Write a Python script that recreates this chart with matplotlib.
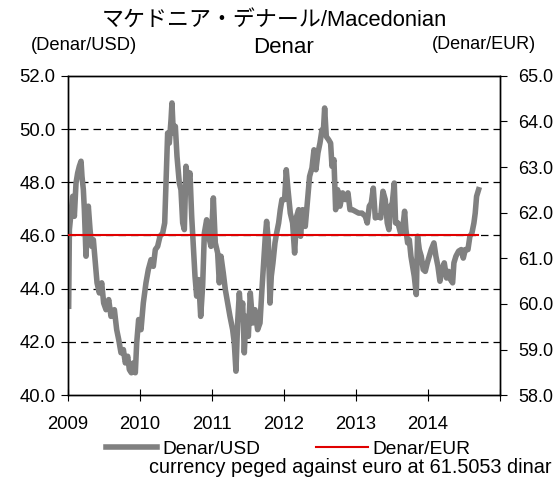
import matplotlib
matplotlib.use('Agg')
import matplotlib.pyplot as plt
from matplotlib.ticker import FormatStrFormatter, MultipleLocator

FONT = ['Liberation Sans', 'Noto Sans CJK JP', 'DejaVu Sans']
plt.rcParams['font.family'] = FONT

GRAY = '#808080'
RED = '#e00000'

# Denar/USD (decimal year, value)
usd_t = [
    2009.009, 2009.019, 2009.042, 2009.065, 2009.088, 2009.111, 2009.134, 2009.157,
    2009.181, 2009.194, 2009.213, 2009.227, 2009.250, 2009.264, 2009.282, 2009.306,
    2009.329, 2009.352, 2009.380, 2009.403, 2009.435, 2009.468, 2009.495, 2009.528,
    2009.565, 2009.597, 2009.644, 2009.676, 2009.704, 2009.736, 2009.769, 2009.796,
    2009.829, 2009.852, 2009.880, 2009.907, 2009.935, 2009.954, 2009.981, 2010.014,
    2010.046, 2010.083, 2010.116, 2010.153, 2010.185, 2010.213, 2010.245, 2010.278,
    2010.315, 2010.343, 2010.361, 2010.384, 2010.407, 2010.431, 2010.444, 2010.463,
    2010.491, 2010.514, 2010.546, 2010.569, 2010.593, 2010.616, 2010.639, 2010.667,
    2010.694, 2010.718, 2010.741, 2010.764, 2010.787, 2010.815, 2010.843, 2010.870,
    2010.894, 2010.926, 2010.954, 2010.986, 2011.019, 2011.046, 2011.079, 2011.102,
    2011.125, 2011.157, 2011.185, 2011.218, 2011.250, 2011.287, 2011.310, 2011.333,
    2011.356, 2011.380, 2011.403, 2011.426, 2011.449, 2011.472, 2011.505, 2011.532,
    2011.565, 2011.597, 2011.634, 2011.667, 2011.694, 2011.718, 2011.741, 2011.759,
    2011.782, 2011.806, 2011.824, 2011.847, 2011.875, 2011.898, 2011.926, 2011.949,
    2011.972, 2012.009, 2012.032, 2012.056, 2012.088, 2012.120, 2012.148, 2012.176,
    2012.204, 2012.231, 2012.259, 2012.296, 2012.329, 2012.356, 2012.389, 2012.417,
    2012.444, 2012.472, 2012.500, 2012.528, 2012.546, 2012.565, 2012.588, 2012.620,
    2012.648, 2012.667, 2012.694, 2012.718, 2012.745, 2012.778, 2012.815, 2012.852,
    2012.889, 2012.917, 2012.949, 2012.991, 2013.037, 2013.083, 2013.130, 2013.157,
    2013.185, 2013.213, 2013.241, 2013.269, 2013.306, 2013.343, 2013.375, 2013.407,
    2013.435, 2013.458, 2013.481, 2013.505, 2013.532, 2013.551, 2013.583, 2013.620,
    2013.648, 2013.676, 2013.694, 2013.718, 2013.741, 2013.764, 2013.787, 2013.810,
    2013.838, 2013.856, 2013.880, 2013.907, 2013.935, 2013.963, 2013.991, 2014.019,
    2014.046, 2014.083, 2014.111, 2014.139, 2014.167, 2014.194, 2014.227, 2014.259,
    2014.287, 2014.315, 2014.343, 2014.361, 2014.389, 2014.426, 2014.463, 2014.491,
    2014.519, 2014.556, 2014.583, 2014.611, 2014.639, 2014.657, 2014.676, 2014.704,
]
usd_v = [
    43.34, 46.22, 46.84, 47.47, 46.72, 47.97, 48.35, 48.60,
    48.79, 48.22, 47.72, 46.97, 45.22, 46.22, 47.10, 46.22,
    45.59, 45.84, 44.97, 44.22, 43.84, 44.22, 43.46, 43.21,
    43.59, 42.96, 43.21, 42.46, 42.09, 41.59, 41.71, 41.21,
    41.46, 40.96, 40.84, 41.21, 40.84, 41.96, 42.84, 42.46,
    43.46, 44.22, 44.72, 45.09, 44.84, 45.47, 45.59, 45.97,
    46.09, 46.47, 47.97, 49.85, 49.47, 50.35, 50.98, 49.85,
    50.10, 48.97, 47.97, 47.72, 46.47, 46.22, 48.60, 47.97,
    48.35, 46.72, 45.59, 44.47, 43.72, 44.34, 42.96, 44.09,
    46.09, 46.59, 45.97, 45.59, 47.41, 45.72, 45.34, 44.22,
    45.22, 44.59, 43.97, 43.46, 42.96, 42.46, 41.96, 40.90,
    42.71, 43.84, 42.96, 43.46, 41.59, 42.96, 42.21, 43.84,
    42.71, 43.21, 42.46, 42.71, 43.97, 44.97, 45.97, 46.53,
    45.84, 43.46, 44.47, 44.97, 45.72, 46.09, 46.47, 46.97,
    47.35, 47.35, 48.47, 47.72, 46.84, 46.47, 45.34, 46.72,
    46.97, 45.97, 46.97, 46.34, 47.35, 48.22, 48.54, 49.22,
    48.47, 49.10, 49.47, 49.97, 49.85, 50.79, 49.72, 49.60,
    49.47, 48.60, 48.85, 46.97, 47.72, 47.10, 47.60, 47.35,
    47.60, 46.97, 46.97, 46.91, 46.84, 46.84, 46.72, 46.47,
    47.10, 47.22, 47.78, 46.66, 46.72, 46.66, 47.66, 47.35,
    46.47, 46.22, 47.10, 47.22, 47.97, 46.47, 46.47, 46.09,
    46.22, 46.91, 46.22, 45.72, 45.84, 45.22, 44.84, 44.47,
    43.78, 45.97, 45.47, 45.22, 44.72, 44.65, 44.97, 45.22,
    45.47, 45.72, 45.22, 44.84, 44.28, 44.72, 44.97, 44.40,
    44.65, 44.34, 44.22, 44.97, 45.22, 45.41, 45.47, 45.15,
    45.47, 45.47, 45.97, 46.09, 46.47, 46.84, 47.47, 47.72,
]

# Denar/EUR peg
eur_t = [2009.0, 2014.70]
eur_v = [61.5053, 61.5053]

year_ticks = [2009, 2010, 2011, 2012, 2013, 2014, 2015]
year_labels = ['2009', '2010', '2011', '2012', '2013', '2014', '']

fig = plt.figure(figsize=(5.53, 4.86), dpi=100)
ax = fig.add_axes([0.123, 0.187, 0.781, 0.657])
ax2 = ax.twinx()

line_usd, = ax.plot(usd_t, usd_v, color=GRAY, linewidth=4.0,
                    solid_joinstyle='round', zorder=3)
line_eur, = ax2.plot(eur_t, eur_v, color=RED, linewidth=1.5, zorder=4)

ax.set_xlim(2009, 2015)
ax.set_ylim(40, 52)
ax2.set_ylim(58, 65)
ax.yaxis.set_major_locator(MultipleLocator(2))
ax2.yaxis.set_major_locator(MultipleLocator(1))
ax.yaxis.set_major_formatter(FormatStrFormatter('%.1f'))
ax2.yaxis.set_major_formatter(FormatStrFormatter('%.1f'))
ax.set_xticks(year_ticks)
ax.set_xticklabels(year_labels)

for y in [42, 44, 46, 48, 50]:
    ax.axhline(y, color='black', linewidth=0.9, linestyle=(0, (6, 4)), zorder=1)

ax.tick_params(axis='y', direction='out', length=5, labelsize=13.3, pad=4)
ax2.tick_params(axis='y', direction='out', length=5, labelsize=13.0, pad=8)
ax.tick_params(axis='x', direction='inout', length=8, labelsize=13.3, pad=11)
for a in (ax, ax2):
    for s in a.spines.values():
        s.set_linewidth(1.0)
        s.set_color('black')

fig.text(0.497, 0.959, 'マケドニア・デナール/Macedonian', ha='center', va='center',
         fontsize=15.8, family=FONT)
fig.text(0.513, 0.903, 'Denar', ha='center', va='center', fontsize=16)
fig.text(0.152, 0.907, '(Denar/USD)', ha='center', va='center', fontsize=13.2)
fig.text(0.875, 0.909, '(Denar/EUR)', ha='center', va='center', fontsize=13)

fig.legend([line_usd, line_eur], ['Denar/USD', 'Denar/EUR'],
           loc='center', bbox_to_anchor=(0.521, 0.076), ncol=2, frameon=False,
           fontsize=13.8, handlelength=2.7, handletextpad=0.26,
           columnspacing=2.9, borderaxespad=0, borderpad=0)
fig.text(0.997, 0.039, 'currency peged against euro at 61.5053 dinar',
         ha='right', va='center', fontsize=14.3)

fig.savefig('out.png', dpi=100)
